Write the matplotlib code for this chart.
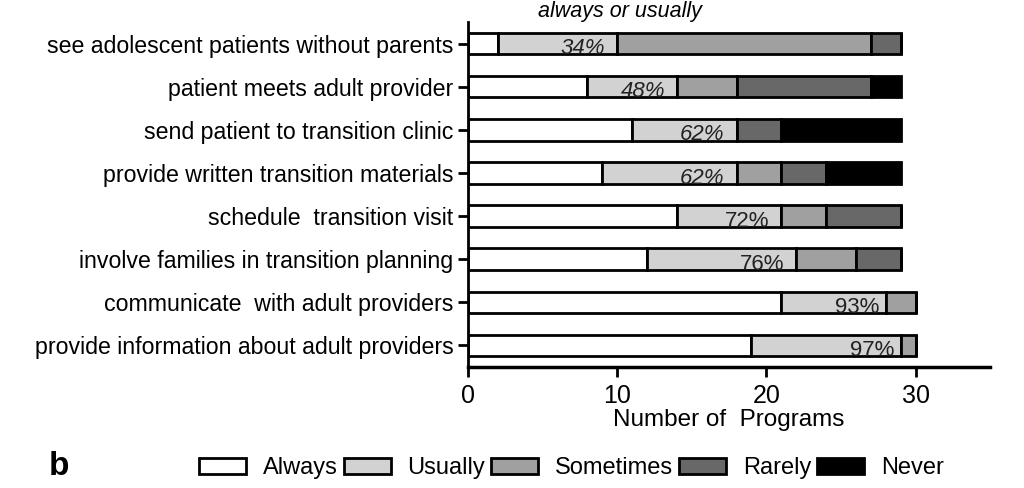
import matplotlib
matplotlib.use("Agg")
import matplotlib.pyplot as plt
import numpy as np
from matplotlib.patches import Patch

plt.rcParams['font.family'] = ['Liberation Sans', 'DejaVu Sans']

categories = [
    "see adolescent patients without parents",
    "patient meets adult provider",
    "send patient to transition clinic",
    "provide written transition materials",
    "schedule  transition visit",
    "involve families in transition planning",
    "communicate  with adult providers",
    "provide information about adult providers",
]
series_names = ["Always", "Usually", "Sometimes", "Rarely", "Never"]
always    = [2, 8, 11, 9, 14, 12, 21, 19]
usually   = [8, 6, 7, 9, 7, 10, 7, 10]
sometimes = [17, 4, 0, 3, 3, 4, 2, 1]
rarely    = [2, 9, 3, 3, 5, 3, 0, 0]
never     = [0, 2, 8, 5, 0, 0, 0, 0]
pct_labels = ["34%", "48%", "62%", "62%", "72%", "76%", "93%", "97%"]
pct_italic = [True, True, True, True, False, False, False, False]
colors = ["#ffffff", "#d2d2d2", "#a0a0a0", "#686868", "#000000"]

fig = plt.figure(figsize=(10.24, 4.88), dpi=100)
ax = fig.add_axes([0.457, 0.248, 0.510, 0.707])

data = [always, usually, sometimes, rarely, never]
y = np.arange(len(categories))
left = np.zeros(len(categories))
for vals, c in zip(data, colors):
    v = np.array(vals, dtype=float)
    ax.barh(y, v, left=left, height=0.5, color=c, edgecolor="black", linewidth=2)
    left += v

au = np.array(always) + np.array(usually)
for i in range(len(categories)):
    off = 0.8 if i < 6 else 0.45
    ax.text(au[i] - off, y[i] + 0.12, pct_labels[i], ha="right", va="center",
            fontsize=16, style="italic" if pct_italic[i] else "normal", color="#222222")

ax.set_xlim(0, 35)
ax.set_ylim(7.5, -0.5)
ax.set_yticks(y)
ax.set_yticklabels(categories, fontsize=16.7)
ax.set_xticks([0, 10, 20, 30])
ax.set_xticklabels(["0", "10", "20", "30"], fontsize=18)
ax.spines["top"].set_visible(False)
ax.spines["right"].set_visible(False)
ax.spines["left"].set_linewidth(2)
ax.spines["bottom"].set_linewidth(2.5)
ax.tick_params(axis="both", direction="out", length=7, width=2)
ax.tick_params(axis="x", pad=5)
ax.set_xlabel("Number of  Programs", fontsize=17.5, labelpad=1)

fig.text(0.605, 0.977, "always or usually", ha="center", va="center",
         fontsize=15.5, style="italic")
fig.text(0.058, 0.045, "b", ha="center", va="center", fontsize=24, fontweight="bold")

handles = [Patch(facecolor=c, edgecolor="black", linewidth=2) for c in colors]
fig.legend(handles, series_names, loc="center", bbox_to_anchor=(0.558, 0.040),
           ncol=5, frameon=False, fontsize=17, handlelength=2.0, handleheight=0.7,
           columnspacing=0.25, handletextpad=0.7)

fig.savefig("out.png", dpi=100)
